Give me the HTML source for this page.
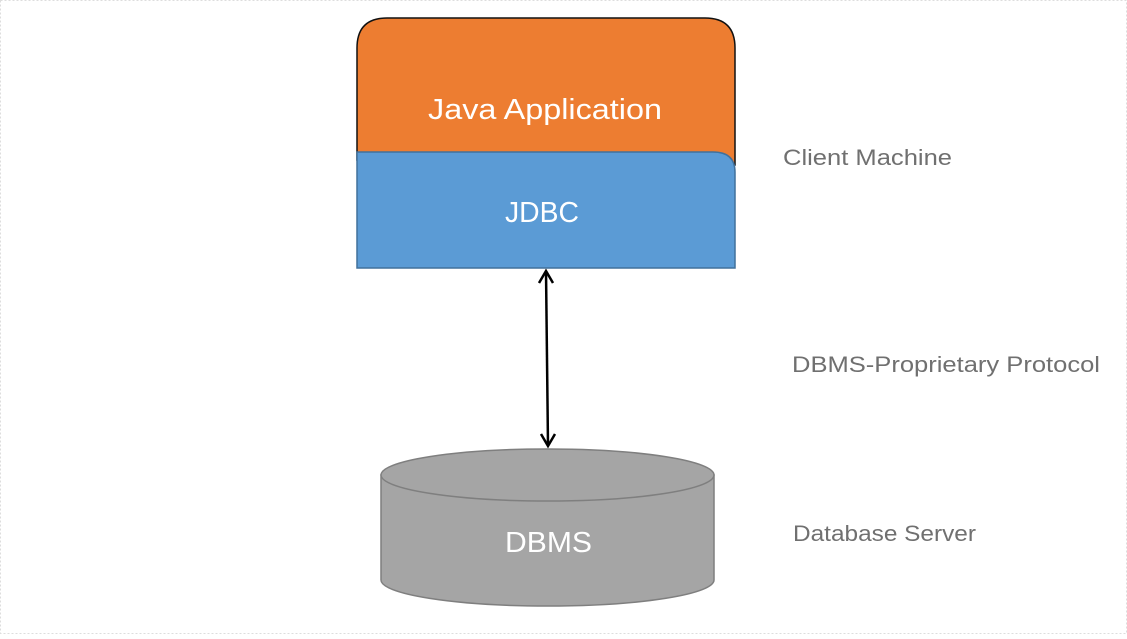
<!DOCTYPE html>
<html><head><style>
body{margin:0;width:1127px;height:634px;background:#fff;overflow:hidden}
</style></head><body>
<svg width="1127" height="634" xmlns="http://www.w3.org/2000/svg" font-family="'Liberation Sans',sans-serif">
<rect x="0.5" y="0.5" width="1126" height="633" fill="#fff" stroke="#ddd" stroke-dasharray="2,2"/>
<path d="M357,160 L357,48 Q357,18 387,18 L705,18 Q735,18 735,48 L735,165 Z" fill="#ed7d31" stroke="#111" stroke-width="1.5"/>
<path d="M357,152 L713,152 Q735,152 735,172 L735,268 L357,268 Z" fill="#5b9bd5" stroke="#41719c" stroke-width="1.5"/>
<text x="428" y="119" fill="#fff" font-size="29" textLength="234" lengthAdjust="spacingAndGlyphs">Java Application</text>
<text x="505" y="222" fill="#fff" font-size="29" textLength="74" lengthAdjust="spacingAndGlyphs">JDBC</text>
<path d="M381,475 L381,580 A166.5,26 0 0 0 714,580 L714,475 Z" fill="#a5a5a5" stroke="#7f7f7f" stroke-width="1.5"/>
<ellipse cx="547.5" cy="475" rx="166.5" ry="26" fill="#a5a5a5" stroke="#7f7f7f" stroke-width="1.5"/>
<text x="505" y="552" fill="#fff" font-size="29" textLength="87" lengthAdjust="spacingAndGlyphs">DBMS</text>
<line x1="546" y1="271" x2="548" y2="446" stroke="#000" stroke-width="2.5"/>
<polyline points="539,283 546,271 553,283" fill="none" stroke="#000" stroke-width="2.5"/>
<polyline points="541,434 548,446 555,434" fill="none" stroke="#000" stroke-width="2.5"/>
<text x="783" y="165" fill="#707070" font-size="22" textLength="169" lengthAdjust="spacingAndGlyphs">Client Machine</text>
<text x="792" y="372" fill="#707070" font-size="22" textLength="308" lengthAdjust="spacingAndGlyphs">DBMS-Proprietary Protocol</text>
<text x="793" y="541" fill="#707070" font-size="22" textLength="183" lengthAdjust="spacingAndGlyphs">Database Server</text>
</svg>
</body></html>
